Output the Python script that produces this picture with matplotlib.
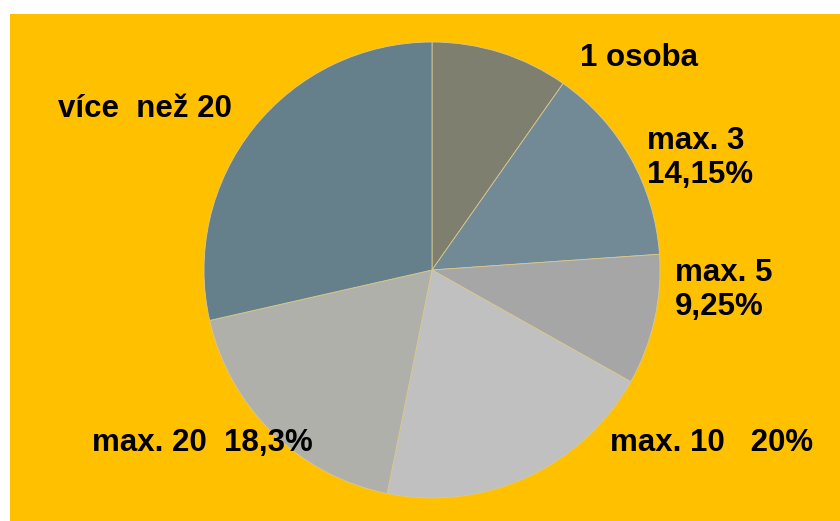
import matplotlib.pyplot as plt
from matplotlib.patches import Rectangle

# Data (share of companies by number of employees, %)
categories = ['1 osoba', 'max. 3', 'max. 5', 'max. 10', 'max. 20', 'více  než 20']
shares = [9.75, 14.15, 9.25, 20.0, 18.3, 28.55]
label_texts = ['1 osoba', 'max. 3\n14,15%', 'max. 5\n9,25%', 'max. 10   20%',
               'max. 20  18,3%', 'více  než 20']
colors = ['#7f7f70', '#718a95', '#a6a6a6', '#c0c0c0', '#b0b0ab', '#65808a']

W, H = 840, 521

fig = plt.figure(figsize=(W / 100, H / 100), dpi=100)
fig.patch.set_facecolor('white')
ax = fig.add_axes([0, 0, 1, 1])

# yellow plot area
ax.add_patch(Rectangle((10, 0), W - 10, H - 14, facecolor='#ffc000',
                       edgecolor='none', zorder=0))

# pie, clockwise from the top
ax.pie(shares, colors=colors, startangle=90, counterclock=False,
       center=(432, H - 270), radius=228, frame=True,
       wedgeprops=dict(linewidth=0.6, edgecolor='#d8c890'))
ax.set_xlim(0, W)
ax.set_ylim(0, H)
ax.set_aspect('equal')
ax.axis('off')

# label positions (left edge, vertical centre) in pixels from top-left
label_pos = [(580, 58), (647, 158), (675, 290), (610, 443), (92, 443), (58, 109)]
for txt, (x, y) in zip(label_texts, label_pos):
    ax.text(x, H - y, txt, fontsize=22.5, fontweight='bold',
            family=['Liberation Sans', 'DejaVu Sans'],
            ha='left', va='center', linespacing=1.15, zorder=5)

fig.savefig('out.png', dpi=100, facecolor=fig.get_facecolor())
